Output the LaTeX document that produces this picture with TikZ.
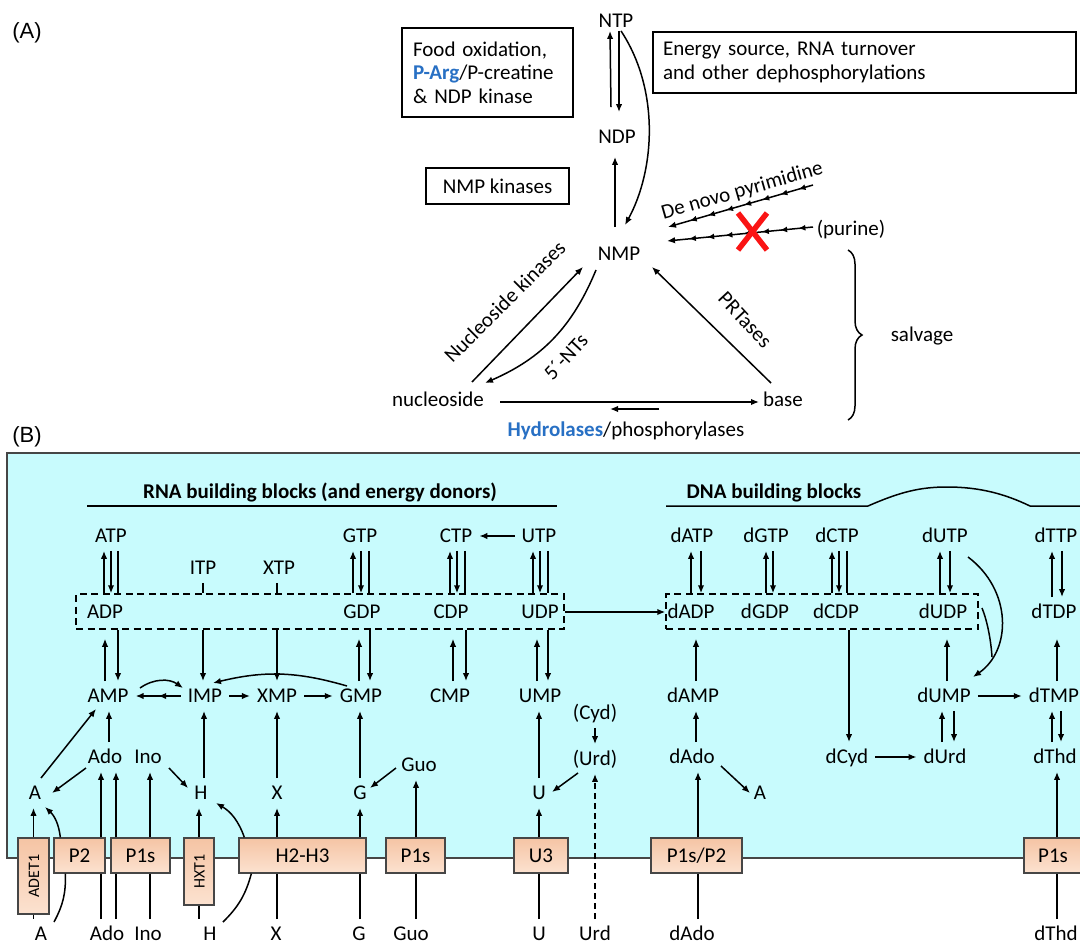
\documentclass[tikz,border=0pt]{standalone}
\usepackage{fontspec}
\setmainfont{Carlito}
\newfontfamily\arialf{Liberation Sans}
\usetikzlibrary{arrows.meta,decorations.markings,decorations.pathreplacing,calc}
\definecolor{cyanbg}{RGB}{200,251,253}
\definecolor{peachtop}{RGB}{245,196,164}
\definecolor{peachbot}{RGB}{252,226,208}
\definecolor{boxline}{RGB}{70,70,70}
\definecolor{argblue}{RGB}{40,112,196}
\definecolor{xred}{RGB}{250,20,20}
\newcommand\fs{\fontsize{21}{23.5}\selectfont}
\newcommand\fsm{\fontsize{16}{18}\selectfont}
\begin{document}
\begin{tikzpicture}[x=1pt,y=-1pt,
  lbl/.style={font=\fs, inner xsep=7pt, inner ysep=8pt, text height=13.5pt, text depth=0pt},
  arr/.style={line width=1.5pt, -{Latex[length=8pt,width=6.5pt]}},
  ln/.style={line width=1.5pt},
  dbox/.style={draw, dashed, dash pattern=on 7pt off 4.5pt, line width=1.5pt, inner sep=0pt, minimum height=35pt},
  mem/.style={draw=boxline, line width=1.3pt, top color=peachtop, bottom color=peachbot, font=\fs, inner sep=0pt, minimum height=35pt, text height=13.5pt, text depth=0pt},
  tbox/.style={draw, line width=1.3pt, font=\fs},
  chev/.style={postaction={decorate}, decoration={markings, mark=between positions 0.1 and 0.9 step 0.125 with {\arrow{Latex[length=7pt,width=6pt]}}}},
  midarr/.style={postaction={decorate}, decoration={markings, mark=at position 0.5 with {\arrow{Latex[length=8pt,width=6.5pt]}}}}
]
\useasboundingbox (0,0) rectangle (1080,942);

% ---------------- Part A ----------------
\node[font=\arialf\fontsize{22}{26}\selectfont] (labA) at (27,33) {(A)};
\node[lbl] (NTP) at (616,21) {NTP};
\node[lbl] (NDP) at (617,137) {NDP};
\node[lbl] (NMP) at (619,254) {NMP};
\node[tbox, minimum width=171pt, minimum height=89pt, text width=149pt, align=left, inner xsep=11pt] (food) at (487.5,72.5) {Food oxidation,\\\textcolor{argblue}{\textbf{P-Arg}}/P-creatine\\\& NDP kinase};
\node[tbox, minimum width=423pt, minimum height=61pt, text width=403pt, align=left, inner xsep=10pt] (energy) at (864.5,62.5) {Energy source, RNA turnover\\and other dephosphorylations};
\node[tbox, minimum width=143pt, minimum height=36pt] (nmpk) at (497.5,186) {NMP kinases};
\node[lbl] (nucleoside) at (438,400) {nucleoside};
\node[lbl] (base) at (783,400) {base};
\node[lbl] (purine) at (851,229) {(purine)};
\node[lbl] (salvage) at (922,335) {salvage};
\node[lbl] (hydro) at (626,430) {\textcolor{argblue}{\textbf{Hydrolases}}/phosphorylases};
\node[lbl, rotate=16] (denovo) at (742,190) {De novo pyrimidine};
\node[lbl, rotate=45] (nskin) at (505,302) {Nucleoside kinases};
\node[lbl, rotate=47] (nts) at (566,357) {5´-NTs};
\node[lbl, rotate=-47] (prt) at (745,320) {PRTases};

\draw[arr] ($(NDP.north)+(-6,-15)$) -- ($(NTP.south)+(-6,-5)$);
\draw[arr] ($(NTP.south)+(3,-5)$) -- ($(NDP.north)+(2,-10)$);
\draw[arr] ($(NTP.south)+(5,-5)$) .. controls (660,90) and (655,170) .. ($(NMP.north)+(6,-14)$);
\draw[arr] ($(NMP.north)+(-4,-12)$) -- ($(NDP.south)+(-2,5)$);
\draw[arr] ($(nucleoside)+(34,-18)$) -- ($(NMP)+(-36,13)$);
\draw[arr] ($(NMP)+(-23,16)$) to[bend left=22] ($(nucleoside)+(47,-17)$);
\draw[arr] ($(base)+(-12,-17)$) -- ($(NMP)+(33,13)$);
\draw[arr] ($(nucleoside)+(62,2)$) -- ($(base)+(-24,2)$);
\draw[arr] ($(hydro)+(33,-21)$) -- ($(hydro)+(-16,-21)$);
\draw[arr, chev] ($(purine)+(-38,-44)$) -- ($(NMP)+(49,-27)$);
\draw[arr, chev] ($(purine)+(-38,-2)$) -- ($(NMP)+(48,-13)$);
\draw[xred, line width=5.5pt] ($(purine)+(-113,-16)$) -- ($(purine)+(-84,21)$);
\draw[xred, line width=5.5pt] ($(purine)+(-84,-16)$) -- ($(purine)+(-113,21)$);
\draw[ln, decorate, decoration={brace, amplitude=14pt}] ($(salvage)+(-74,-85)$) -- ($(salvage)+(-74,85)$);

% ---------------- Part B ----------------
\node[font=\arialf\fontsize{22}{26}\selectfont] (labB) at (27,437) {(B)};
\draw[draw=boxline, line width=1.5pt, fill=cyanbg] (7,453) rectangle (1100,858);

\node[font=\fs\bfseries, inner sep=0pt, text height=13.5pt, text depth=0pt] (rnat) at (320,492) {RNA building blocks (and energy donors)};
\node[font=\fs\bfseries, inner sep=0pt, text height=13.5pt, text depth=0pt] (dnat) at (774,492) {DNA building blocks};
\draw[ln] (87,506) -- (557,506);
\draw[ln] (666,506) -- (868,506) .. controls (900,492) and (920,487) .. (947,487) .. controls (980,487) and (1005,494) .. (1030,506) -- (1085,506);

\node[dbox, minimum width=488pt] (dp1) at (320,611.5) {};
\node[dbox, minimum width=312pt] (dp2) at (822,611.5) {};

% triphosphates
\node[lbl] (ATP) at (111,536) {ATP};
\node[lbl] (ITP) at (203,568) {ITP};
\node[lbl] (XTP) at (279,568) {XTP};
\node[lbl] (GTP) at (360,536) {GTP};
\node[lbl] (CTP) at (456,536) {CTP};
\node[lbl] (UTP) at (539,536) {UTP};
\node[lbl] (dATP) at (692,536) {dATP};
\node[lbl] (dGTP) at (766,536) {dGTP};
\node[lbl] (dCTP) at (837,536) {dCTP};
\node[lbl] (dUTP) at (945,536) {dUTP};
\node[lbl] (dTTP) at (1056,536) {dTTP};
% diphosphates
\node[lbl] (ADP) at (105,612) {ADP};
\node[lbl] (GDP) at (362,612) {GDP};
\node[lbl] (CDP) at (451,612) {CDP};
\node[lbl] (UDP) at (540,612) {UDP};
\node[lbl] (dADP) at (691,612) {dADP};
\node[lbl] (dGDP) at (765,612) {dGDP};
\node[lbl] (dCDP) at (836,612) {dCDP};
\node[lbl] (dUDP) at (943,612) {dUDP};
\node[lbl] (dTDP) at (1054,612) {dTDP};
% monophosphates
\node[lbl] (AMP) at (108,696) {AMP};
\node[lbl] (IMP) at (205,696) {IMP};
\node[lbl] (XMP) at (277,696) {XMP};
\node[lbl] (GMP) at (361,696) {GMP};
\node[lbl] (CMP) at (450,696) {CMP};
\node[lbl] (UMP) at (540,696) {UMP};
\node[lbl] (dAMP) at (693,696) {dAMP};
\node[lbl] (dUMP) at (944,696) {dUMP};
\node[lbl] (dTMP) at (1054,696) {dTMP};
% nucleosides
\node[lbl] (Ado) at (105,757) {Ado};
\node[lbl] (Ino) at (148,757) {Ino};
\node[lbl] (Guo) at (419,765) {Guo};
\node[lbl] (Cyd) at (595,713) {(Cyd)};
\node[lbl] (Urd) at (595,759) {(Urd)};
\node[lbl] (dAdo) at (692,757) {dAdo};
\node[lbl] (dCyd) at (847,757) {dCyd};
\node[lbl] (dUrd) at (945,757) {dUrd};
\node[lbl] (dThd) at (1055,757) {dThd};
% bases
\node[lbl] (A) at (35,793) {A};
\node[lbl] (H) at (201,793) {H};
\node[lbl] (X) at (277,793) {X};
\node[lbl] (G) at (360,793) {G};
\node[lbl] (U) at (539,793) {U};
\node[lbl] (A2) at (760,793) {A};
% outside
\node[lbl] (bA) at (41,934) {A};
\node[lbl] (bAdo) at (107,934) {Ado};
\node[lbl] (bIno) at (148,934) {Ino};
\node[lbl] (bH) at (210,934) {H};
\node[lbl] (bX) at (276,934) {X};
\node[lbl] (bG) at (359,934) {G};
\node[lbl] (bGuo) at (411,934) {Guo};
\node[lbl] (bU) at (539,934) {U};
\node[lbl] (bUrd) at (595,934) {Urd};
\node[lbl] (bdAdo) at (692,934) {dAdo};
\node[lbl] (bdThd) at (1056,934) {dThd};
% transporters
\node[mem, rotate=90, minimum width=76pt, minimum height=31pt, font=\fsm, text height=11pt] (ADET1) at (33.5,876) {ADET1};
\node[mem, minimum width=51pt] (P2) at (79.5,855.5) {P2};
\node[mem, minimum width=59pt] (P1sa) at (140.5,855.5) {P1s};
\node[mem, rotate=90, minimum width=67pt, minimum height=30pt, font=\fsm, text height=11pt] (HXT1) at (199,871.5) {HXT1};
\node[mem, minimum width=127pt] (H2H3) at (302.5,855.5) {H2-H3};
\node[mem, minimum width=59pt] (P1sb) at (415.5,855.5) {P1s};
\node[mem, minimum width=54pt] (U3) at (541,855.5) {U3};
\node[mem, minimum width=91pt] (P1sP2) at (696.5,855.5) {P1s/P2};
\node[mem, minimum width=58pt] (P1sc) at (1053,855.5) {P1s};

% TP <-> DP
\draw[arr] ($(ATP.south |- dp1.north)+(-7,0)$) -- ($(ATP.south)+(-7,0)$);
\draw[arr] (ATP.south) -- (ATP.south |- dp1.north);
\draw[ln] ($(ATP.south)+(7,0)$) -- ($(ATP.south |- dp1.north)+(7,0)$);
\draw[arr] ($(GTP.south |- dp1.north)+(-7,0)$) -- ($(GTP.south)+(-7,0)$);
\draw[arr] ($(GTP.south)+(1,0)$) -- ($(GTP.south |- dp1.north)+(1,0)$);
\draw[ln] ($(GTP.south)+(9,0)$) -- ($(GTP.south |- dp1.north)+(9,0)$);
\draw[arr] ($(CTP.south |- dp1.north)+(-6,0)$) -- ($(CTP.south)+(-6,0)$);
\draw[arr] ($(CTP.south)+(1,0)$) -- ($(CTP.south |- dp1.north)+(1,0)$);
\draw[ln] ($(CTP.south)+(9,0)$) -- ($(CTP.south |- dp1.north)+(9,0)$);
\draw[arr] ($(UTP.south |- dp1.north)+(-6,0)$) -- ($(UTP.south)+(-6,0)$);
\draw[arr] ($(UTP.south)+(1,0)$) -- ($(UTP.south |- dp1.north)+(1,0)$);
\draw[ln] ($(UTP.south)+(9,0)$) -- ($(UTP.south |- dp1.north)+(9,0)$);
\draw[ln] (ITP.south) -- (ITP.south |- dp1.north);
\draw[ln] ($(XTP.south)+(-2,0)$) -- ($(XTP.south |- dp1.north)+(-2,0)$) -- ++(5,0);
\draw[arr] (UTP.west) -- (CTP.east);
\draw[arr] ($(dATP.south |- dp2.north)+(-1,0)$) -- ($(dATP.south)+(-1,0)$);
\draw[arr] ($(dATP.south)+(9,0)$) -- ($(dATP.south |- dp2.north)+(9,0)$);
\draw[arr] ($(dGTP.south |- dp2.north)+(0,0)$) -- ($(dGTP.south)+(0,0)$);
\draw[arr] ($(dGTP.south)+(7,0)$) -- ($(dGTP.south |- dp2.north)+(7,0)$);
\draw[arr] ($(dCTP.south |- dp2.north)+(-5,0)$) -- ($(dCTP.south)+(-5,0)$);
\draw[arr] ($(dCTP.south)+(2,0)$) -- ($(dCTP.south |- dp2.north)+(2,0)$);
\draw[ln] ($(dCTP.south)+(10,0)$) -- ($(dCTP.south |- dp2.north)+(10,0)$);
\draw[arr] ($(dUTP.south |- dp2.north)+(-5,0)$) -- ($(dUTP.south)+(-5,0)$);
\draw[arr] ($(dUTP.south)+(5,0)$) -- ($(dUTP.south |- dp2.north)+(5,0)$);
\draw[arr] ($(dTDP.north)+(-2,0)$) -- ($(dTTP.south -| dTDP.north)+(-2,0)$);
\draw[arr] ($(dTTP.south -| dTDP.north)+(8,0)$) -- ($(dTDP.north)+(8,0)$);
\draw[arr] (dp1.east |- UDP) -- (dp2.west |- UDP);

% DP <-> MP
\draw[arr] ($(AMP.north)+(-3,0)$) -- ($(AMP.north |- dp1.south)+(-3,9)$);
\draw[arr] ($(AMP.north |- dp1.south)+(10,0)$) -- ($(AMP.north)+(10,0)$);
\draw[arr] ($(IMP.north |- dp1.south)+(-2,0)$) -- ($(IMP.north)+(-2,0)$);
\draw[arr] (XMP.north |- dp1.south) -- (XMP.north);
\draw[arr] ($(GMP.north)+(-2,0)$) -- ($(GMP.north |- dp1.south)+(-2,9)$);
\draw[arr] ($(GMP.north |- dp1.south)+(9,0)$) -- ($(GMP.north)+(9,0)$);
\draw[arr] ($(CMP.north)+(3,0)$) -- ($(CMP.north |- dp1.south)+(3,9)$);
\draw[arr] ($(CMP.north |- dp1.south)+(16,0)$) -- ($(CMP.north)+(16,0)$);
\draw[arr] ($(UMP.north)+(-3,0)$) -- ($(UMP.north |- dp1.south)+(-3,9)$);
\draw[arr] ($(UMP.north |- dp1.south)+(8,0)$) -- ($(UMP.north)+(8,0)$);
\draw[arr] ($(dAMP.north)+(3,0)$) -- ($(dAMP.north |- dp2.south)+(3,9)$);
\draw[arr] ($(dUMP.north)+(3,0)$) -- ($(dUMP.north |- dp2.south)+(3,9)$);
\draw[arr] ($(dTMP.north)+(3,0)$) -- ($(dTMP.north |- dp2.south)+(3,9)$);
\draw[arr] ($(dCyd.north |- dp2.south)+(2,0)$) -- ($(dCyd.north)+(2,0)$);
\coordinate (mrg) at (992,657);
\draw[arr] ($(dUTP)+(23,21)$) .. controls (1012,590) and (1012,650) .. ($(dUMP)+(29,-19)$);
\draw[ln] ($(dUDP)+(39,-4)$) .. controls (987,620) and (991,640) .. (mrg);

% MP row
\draw[arr, midarr] (IMP.west) -- (AMP.east);
\draw[arr] ($(AMP)+(32,-8)$) to[bend left=35] ($(IMP)+(-22,-8)$);
\draw[arr] ($(GMP)+(-14,-10)$) to[bend right=15] ($(IMP)+(8,-13)$);
\draw[arr] (IMP.east) -- (XMP.west);
\draw[arr] (XMP.east) -- (GMP.west);
\draw[arr] (dUMP.east) -- (dTMP.west);

% nucleosides / bases
\draw[arr] ($(A)+(6,-15)$) -- ($(AMP)+(-12,13)$);
\draw[arr] ($(Ado)+(-19,11)$) -- ($(A)+(17,0)$);
\draw[arr] ($(Ado.north)+(4,0)$) -- ($(AMP.south -| Ado.north)+(4,0)$);
\draw[arr] ($(Ino)+(21,11)$) -- ($(H)+(-13,-5)$);
\draw[arr] ($(H.north)+(3,0)$) -- ($(IMP.south -| H.north)+(3,0)$);
\draw[arr] (X.north) -- (XMP.south -| X.north);
\draw[arr] (G.north) -- (GMP.south -| G.north);
\draw[arr] ($(Guo)+(-23,3)$) -- ($(G)+(10,-5)$);
\draw[arr] (U.north) -- (UMP.south -| U.north);
\draw[arr] (Cyd.south) -- (Urd.north);
\draw[arr] ($(Urd)+(-17,14)$) -- ($(U)+(13,-1)$);
\draw[arr] ($(dAdo.north)+(4,0)$) -- ($(dAMP.south -| dAdo.north)+(4,0)$);
\draw[arr] ($(dAdo)+(29,9)$) -- ($(A2)+(-10,0)$);
\draw[arr] (dCyd.east) -- (dUrd.west);
\draw[arr] ($(dUrd.north)+(-3,0)$) -- ($(dUMP.south -| dUrd.north)+(-3,0)$);
\draw[arr] ($(dUMP.south -| dUrd.north)+(9,0)$) -- ($(dUrd.north)+(9,0)$);
\draw[arr] ($(dThd.north)+(-3,0)$) -- ($(dTMP.south -| dThd.north)+(-3,0)$);
\draw[arr] ($(dTMP.south -| dThd.north)+(6,0)$) -- ($(dThd.north)+(6,0)$);

% transport into the cell
\draw[arr] (ADET1.east) -- (A.south -| ADET1.east);
\draw[ln] (ADET1.west) -- (bA.north -| ADET1.west);
\draw[arr] ($(P2.north west)+(7,0)$) to[bend right=20] ($(A)+(10,14)$);
\draw[ln] ($(P2.south west)+(12,0)$) to[bend left=15] ($(bA)+(13,-12)$);
\draw[arr] ($(Ado.south |- P2.north)+(-4,0)$) -- ($(Ado.south)+(-4,0)$);
\draw[arr] ($(Ado.south |- P1sa.north)+(11,0)$) -- ($(Ado.south)+(11,0)$);
\draw[arr] ($(Ino.south |- P1sa.north)+(2,0)$) -- ($(Ino.south)+(2,0)$);
\draw[ln] ($(bAdo.north)+(-6,0)$) -- ($(bAdo.north |- P2.south)+(-6,0)$);
\draw[ln] ($(bAdo.north)+(9,0)$) -- ($(bAdo.north |- P1sa.south)+(9,0)$);
\draw[ln] ($(bIno.north)+(2,0)$) -- ($(bIno.north |- P1sa.south)+(2,0)$);
\draw[arr] (HXT1.east) -- (H.south -| HXT1.east);
\draw[ln] (HXT1.west) -- (bH.north -| HXT1.west);
\draw[arr] ($(H2H3.north west)+(6,0)$) to[bend right=20] ($(H)+(15,10)$);
\draw[ln] ($(H2H3.south west)+(13,0)$) to[bend left=15] ($(bH)+(13,-12)$);
\draw[arr] (X.south |- H2H3.north) -- (X.south);
\draw[ln] ($(bX.north)+(1,0)$) -- ($(bX.north |- H2H3.south)+(1,0)$);
\draw[arr] (G.south |- H2H3.north) -- (G.south);
\draw[ln] ($(bG.north)+(1,0)$) -- ($(bG.north |- H2H3.south)+(1,0)$);
\draw[arr] ($(Guo.south |- P1sb.north)+(-3,0)$) -- ($(Guo.south)+(-3,0)$);
\draw[ln] ($(bGuo.north)+(5,0)$) -- ($(bGuo.north |- P1sb.south)+(5,0)$);
\draw[arr] (U.south |- U3.north) -- (U.south);
\draw[ln] (bU.north) -- (bU.north |- U3.south);
\draw[arr, dash pattern=on 6pt off 4pt] (bUrd.north) -- (Urd.south);
\draw[arr] ($(dAdo.south |- P1sP2.north)+(6,0)$) -- ($(dAdo.south)+(6,0)$);
\draw[ln] ($(bdAdo.north)+(6,0)$) -- ($(bdAdo.north |- P1sP2.south)+(6,0)$);
\draw[arr] ($(dThd.south |- P1sc.north)+(2,0)$) -- ($(dThd.south)+(2,0)$);
\draw[ln] ($(bdThd.north)+(1,0)$) -- ($(bdThd.north |- P1sc.south)+(1,0)$);
\end{tikzpicture}
\end{document}
